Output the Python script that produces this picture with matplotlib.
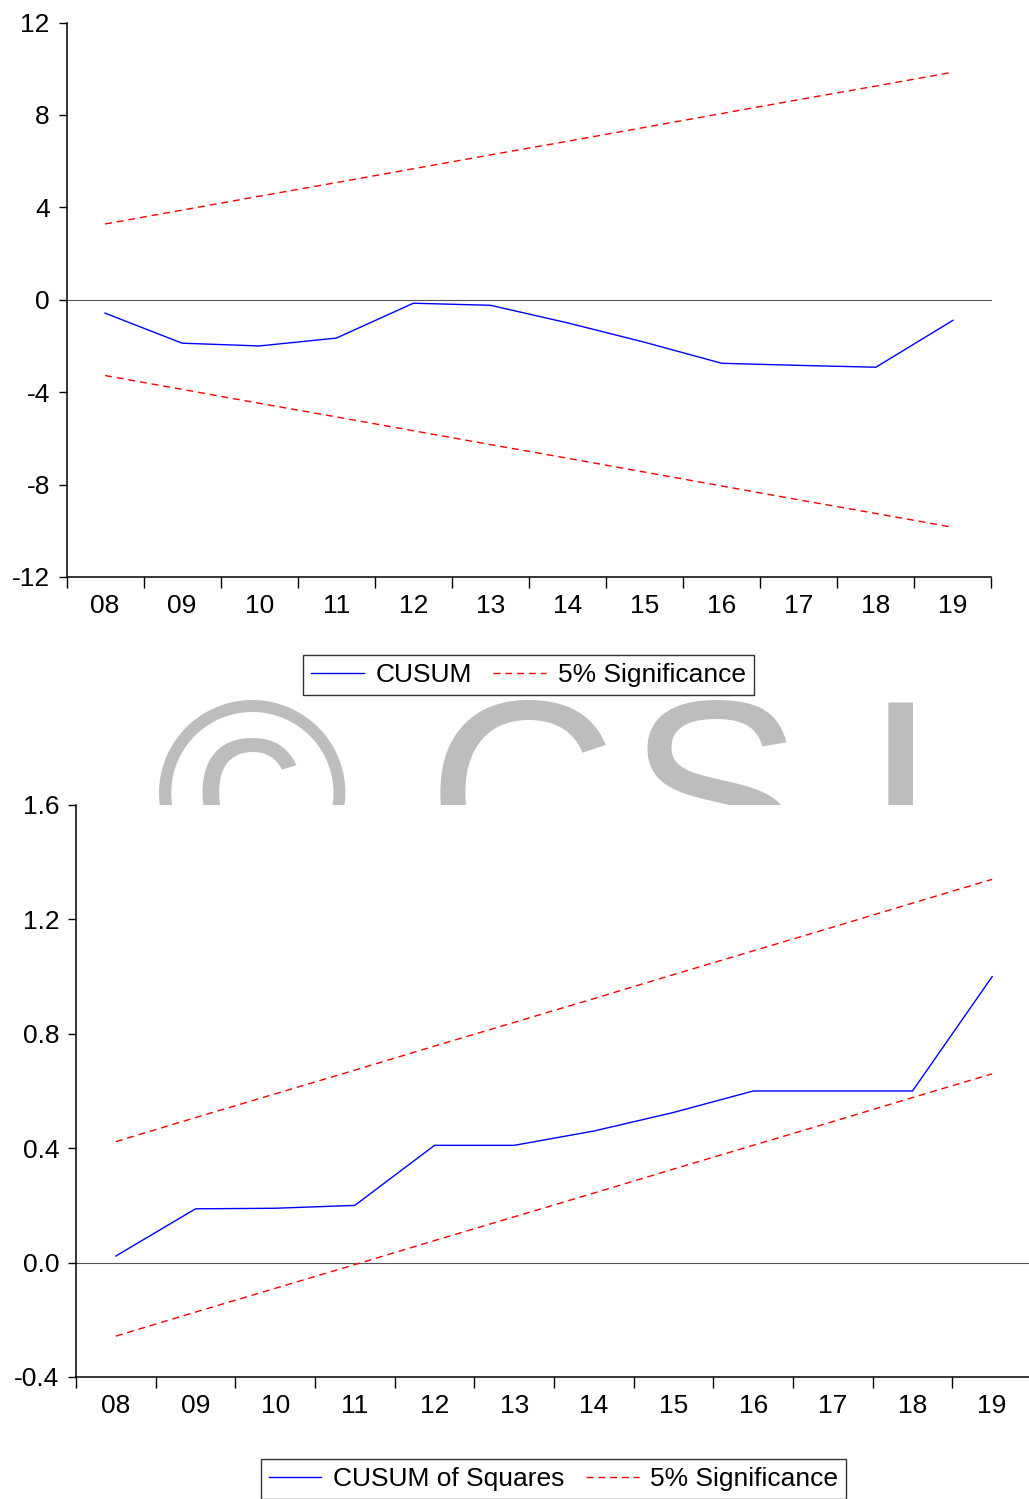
import matplotlib.pyplot as plt
from matplotlib.lines import Line2D

plt.rcParams['font.family'] = ['Liberation Sans', 'DejaVu Sans']

years = ['08', '09', '10', '11', '12', '13', '14', '15', '16', '17', '18', '19']

# CUSUM test
cusum = [-0.58, -1.88, -2.0, -1.66, -0.15, -0.24, -1.0, -1.84, -2.75, -2.84, -2.92, -0.89]
cusum_upper = [3.28, 3.88, 4.48, 5.07, 5.67, 6.27, 6.86, 7.46, 8.06, 8.66, 9.25, 9.85]
cusum_lower = [-v for v in cusum_upper]

# CUSUM of squares test
cusumsq = [0.023, 0.188, 0.19, 0.20, 0.41, 0.41, 0.46, 0.525, 0.60, 0.60, 0.60, 1.0]
cusumsq_upper = [0.423, 0.507, 0.590, 0.673, 0.757, 0.840, 0.923, 1.007, 1.090, 1.173, 1.257, 1.340]
cusumsq_lower = [-0.257, -0.173, -0.090, -0.007, 0.077, 0.160, 0.243, 0.327, 0.410, 0.493, 0.577, 0.660]

W, H = 1029, 1499
FS = 19
BLUE = '#0000ff'
RED = '#ff0000'
DASH = (0, (5, 3.5))

fig = plt.figure(figsize=(W / 100, H / 100), dpi=100)


def px_axes(left, top, right, bottom):
    return fig.add_axes([left / W, 1 - bottom / H, (right - left) / W, (bottom - top) / H])


def style_axes(ax, yticks, ylabels):
    n = len(years)
    x = range(n)
    ax.set_xlim(-0.5, n - 0.5)
    ax.set_xticks([i - 0.5 for i in range(n + 1)])
    ax.set_xticklabels([])
    ax.set_xticks(list(x), minor=True)
    ax.set_xticklabels(years, minor=True)
    ax.tick_params(axis='x', which='major', direction='out', length=8, width=1.0)
    ax.tick_params(axis='x', which='minor', length=0, pad=12, labelsize=FS)
    ax.set_yticks(yticks)
    ax.set_yticklabels(ylabels)
    ax.tick_params(axis='y', direction='out', length=6, width=1.0, pad=6, labelsize=FS)
    ax.set_ylim(yticks[0], yticks[-1])
    for s in ('top', 'right'):
        ax.spines[s].set_visible(False)
    for s in ('left', 'bottom'):
        ax.spines[s].set_linewidth(1.1)
    ax.axhline(0, color='#555555', lw=0.8, zorder=1)


def legend(label, cx, cy):
    handles = [Line2D([], [], color=BLUE, lw=1.0),
               Line2D([], [], color=RED, lw=1.0, linestyle=DASH)]
    lg = fig.legend(handles, [label, '5% Significance'], loc='center',
                    bbox_to_anchor=(cx / W, 1 - cy / H), ncol=2, fontsize=FS,
                    frameon=True, fancybox=False, handlelength=2.0,
                    handletextpad=0.45, columnspacing=0.8, borderpad=0.3)
    lg.get_frame().set_edgecolor('black')
    lg.get_frame().set_linewidth(1.0)


x = list(range(len(years)))

# top panel
ax1 = px_axes(66.5, 22.5, 991.5, 577)
ax1.plot(x, cusum, color=BLUE, lw=1.0, zorder=3)
ax1.plot(x, cusum_upper, color=RED, lw=1.0, linestyle=DASH, zorder=2)
ax1.plot(x, cusum_lower, color=RED, lw=1.0, linestyle=DASH, zorder=2)
style_axes(ax1, [-12, -8, -4, 0, 4, 8, 12], ['-12', '-8', '-4', '0', '4', '8', '12'])
legend('CUSUM', 528.5, 675)

# watermark strip between the panels
axw = px_axes(0, 700, W, 806)
axw.set_xlim(0, W)
axw.set_ylim(806, 700)
axw.axis('off')
for ch, cx in zip(['\u00a9', 'C', 'S', 'I'], [252, 522, 715, 900]):
    axw.text(cx, 884, ch, fontsize=190, color='#bdbdbd', ha='center',
             va='baseline', clip_on=True)

# bottom panel
ax2 = px_axes(76, 805, 1032, 1377)
ax2.plot(x, cusumsq, color=BLUE, lw=1.0, zorder=3)
ax2.plot(x, cusumsq_upper, color=RED, lw=1.0, linestyle=DASH, zorder=2)
ax2.plot(x, cusumsq_lower, color=RED, lw=1.0, linestyle=DASH, zorder=2)
style_axes(ax2, [-0.4, 0.0, 0.4, 0.8, 1.2, 1.6], ['-0.4', '0.0', '0.4', '0.8', '1.2', '1.6'])
legend('CUSUM of Squares', 553.5, 1479)

fig.savefig('out.png', dpi=100)
